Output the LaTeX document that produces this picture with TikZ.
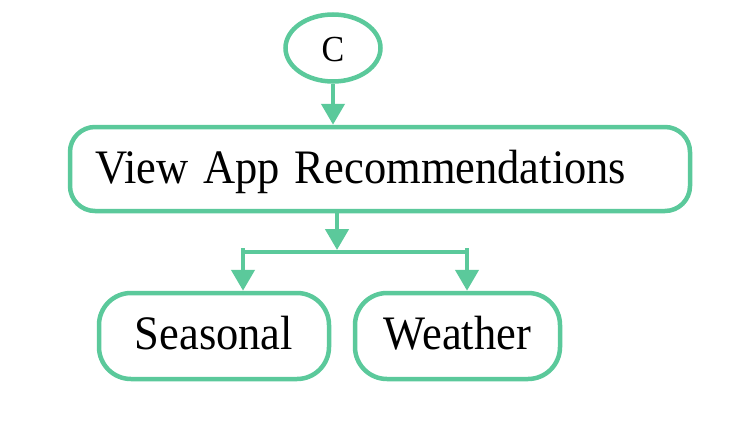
\documentclass[tikz,border=0pt]{standalone}
\usepackage{graphicx}
\usepackage{fontspec}
\setmainfont{Liberation Serif}
\usetikzlibrary{shapes.geometric,arrows.meta}
\definecolor{gr}{RGB}{91,201,155}
\newcommand{\talltxt}[1]{\scalebox{1}[1.08]{#1}}
\begin{document}
\begin{tikzpicture}[x=1pt,y=-1pt,
  box/.style={draw=gr, line width=4.5pt, rounded corners=25pt, inner sep=0pt, font=\fontsize{44.5}{54}\selectfont, text depth=8pt},
  ell/.style={draw=gr, line width=4.5pt, ellipse, inner sep=0pt, minimum width=95pt, minimum height=67pt, font=\fontsize{34}{40}\selectfont, text height=30pt, text depth=4pt},
  conn/.style={draw=gr, line width=4.5pt, -{Triangle[width=23pt,length=21pt]}},
  bar/.style={draw=gr, line width=4.5pt}]
\useasboundingbox (0,0) rectangle (746,442);
\node[ell] (c) at (333,48) {\talltxt{C}};
\node[box, minimum width=620pt, minimum height=84pt, text width=570pt, align=left, text height=36pt] (v) at (380,169) {\talltxt{View App Recommendations}};
\node[box, rounded corners=32pt, minimum width=230pt, minimum height=86pt, text height=34pt] (s) at (214,336) {\talltxt{Seasonal}};
\node[box, rounded corners=32pt, minimum width=205pt, minimum height=86pt, text height=34pt] (w) at (457.5,336) {\talltxt{Weather}};
\coordinate (j) at (337,250);
\coordinate (jl) at (243,252);
\coordinate (jr) at (467,252);
\draw[conn] (c.south) -- (c.south |- v.north);
\draw[conn] (v.south -| j) -- (j);
\draw[bar] (jl) -- (jr);
\draw[conn] ([yshift=4pt]jl) -- (jl |- s.north);
\draw[conn] ([yshift=4pt]jr) -- (jr |- w.north);
\end{tikzpicture}
\end{document}
